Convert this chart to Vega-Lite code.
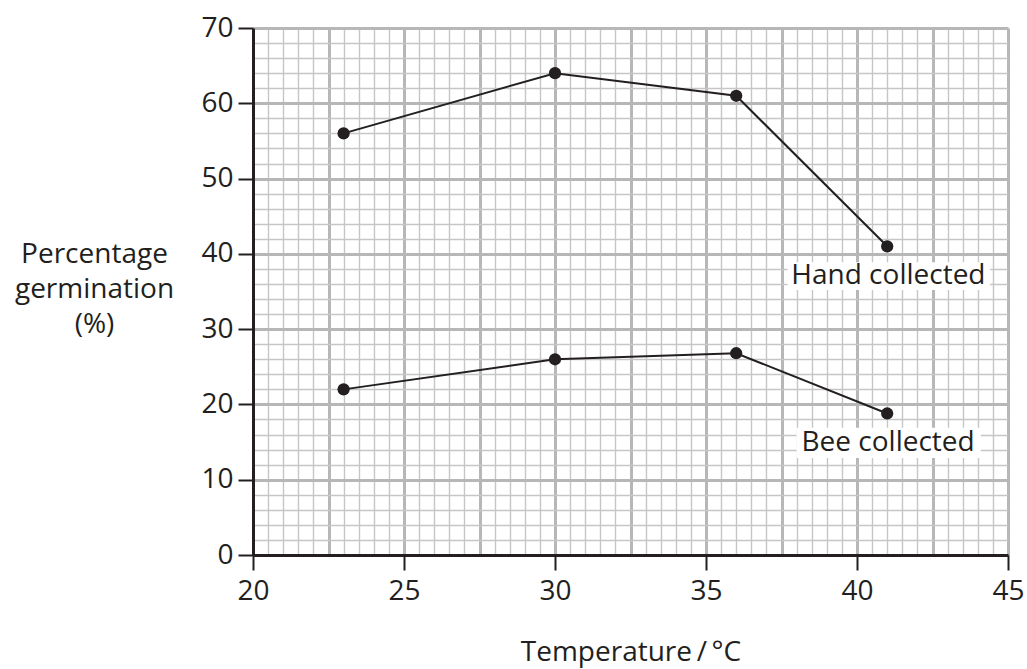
{
  "$schema": "https://vega.github.io/schema/vega-lite/v6.json",
  "width": 755,
  "height": 527,
  "autosize": {"type": "none"},
  "padding": {"left": 253, "top": 28, "right": 19, "bottom": 114},
  "background": "white",
  "config": {"view": {"stroke": null}, "font": "Open Sans"},
  "datasets": {
    "points": [
      {"series": "Hand collected", "temp": 23, "pct": 56},
      {"series": "Hand collected", "temp": 30, "pct": 64},
      {"series": "Hand collected", "temp": 36, "pct": 61},
      {"series": "Hand collected", "temp": 41, "pct": 41},
      {"series": "Bee collected", "temp": 23, "pct": 22},
      {"series": "Bee collected", "temp": 30, "pct": 26},
      {"series": "Bee collected", "temp": 36, "pct": 26.8},
      {"series": "Bee collected", "temp": 41, "pct": 18.8}
    ],
    "labels": [
      {"label": "Hand collected", "temp": 41.04, "pct": 37.0, "tlo": 37.7, "thi": 44.4, "plo": 35.2, "phi": 38.9},
      {"label": "Bee collected", "temp": 41.03, "pct": 14.9, "tlo": 38.0, "thi": 44.1, "plo": 12.9, "phi": 16.9}
    ]
  },
  "layer": [
    {
      "data": {"name": "labels"},
      "mark": {"type": "rect", "color": "white"},
      "encoding": {
        "x": {
          "field": "tlo", "type": "quantitative",
          "scale": {"domain": [20, 45], "nice": false, "zero": false},
          "axis": {
            "title": "Temperature\u2009/\u2009°C",
            "values": [20,20.5,21,21.5,22,22.5,23,23.5,24,24.5,25,25.5,26,26.5,27,27.5,28,28.5,29,29.5,30,30.5,31,31.5,32,32.5,33,33.5,34,34.5,35,35.5,36,36.5,37,37.5,38,38.5,39,39.5,40,40.5,41,41.5,42,42.5,43,43.5,44,44.5,45],
            "tickCount": 500,
            "grid": true,
            "gridColor": {"condition": {"test": "datum.value % 2.5 === 0", "value": "#b7b7b7"}, "value": "#c6c6c6"},
            "gridWidth": {"condition": {"test": "datum.value % 2.5 === 0", "value": 3}, "value": 1.4},
            "gridOpacity": 1,
            "tickOpacity": {"condition": {"test": "datum.value % 5 === 0", "value": 1}, "value": 0},
            "labelExpr": "datum.value % 5 === 0 ? format(datum.value, 'd') : ''",
            "labelOverlap": false,
            "labelFlush": false,
            "domainColor": "#231f20",
            "domainWidth": 3,
            "tickColor": "#231f20",
            "tickWidth": 2,
            "tickSize": 15,
            "labelFontSize": 28,
            "labelColor": "#231f20",
            "labelPadding": 7,
            "titleFontSize": 28,
            "titleFontWeight": "normal",
            "titleColor": "#231f20",
            "titleBaseline": "middle",
            "titleY": 97
          }
        },
        "x2": {"field": "thi"},
        "y": {
          "field": "plo", "type": "quantitative",
          "scale": {"domain": [0, 70], "nice": false, "zero": false},
          "axis": {
            "title": ["Percentage", "germination", "(%)"],
            "values": [0,2,4,6,8,10,12,14,16,18,20,22,24,26,28,30,32,34,36,38,40,42,44,46,48,50,52,54,56,58,60,62,64,66,68,70],
            "tickCount": 500,
            "grid": true,
            "gridColor": {"condition": {"test": "datum.value % 10 === 0", "value": "#b7b7b7"}, "value": "#c6c6c6"},
            "gridWidth": {"condition": {"test": "datum.value % 10 === 0", "value": 3}, "value": 1.4},
            "gridOpacity": 1,
            "tickOpacity": {"condition": {"test": "datum.value % 10 === 0", "value": 1}, "value": 0},
            "labelExpr": "datum.value % 10 === 0 ? format(datum.value, 'd') : ''",
            "labelOverlap": false,
            "labelFlush": false,
            "domainColor": "#231f20",
            "domainWidth": 3,
            "tickColor": "#231f20",
            "tickWidth": 2,
            "tickSize": 15,
            "labelFontSize": 28,
            "labelColor": "#231f20",
            "labelPadding": 5,
            "titleFontSize": 28,
            "titleFontWeight": "normal",
            "titleColor": "#231f20",
            "titleAngle": 0,
            "titleAlign": "center",
            "titleBaseline": "middle",
            "titleLineHeight": 35,
            "titleX": -159,
            "titleY": 226
          }
        },
        "y2": {"field": "phi"}
      }
    },
    {
      "data": {"name": "labels"},
      "mark": {"type": "text", "fontSize": 28, "color": "#231f20", "font": "Open Sans", "baseline": "middle", "align": "center"},
      "encoding": {
        "x": {"field": "temp", "type": "quantitative"},
        "y": {"field": "pct", "type": "quantitative"},
        "text": {"field": "label"}
      }
    },
    {
      "data": {"name": "points"},
      "mark": {"type": "line", "color": "#231f20", "strokeWidth": 2},
      "encoding": {
        "x": {"field": "temp", "type": "quantitative"},
        "y": {"field": "pct", "type": "quantitative"},
        "detail": {"field": "series"}
      }
    },
    {
      "data": {"name": "points"},
      "mark": {"type": "circle", "color": "#231f20", "opacity": 1, "size": 150},
      "encoding": {
        "x": {"field": "temp", "type": "quantitative"},
        "y": {"field": "pct", "type": "quantitative"},
        "detail": {"field": "series"}
      }
    }
  ]
}
